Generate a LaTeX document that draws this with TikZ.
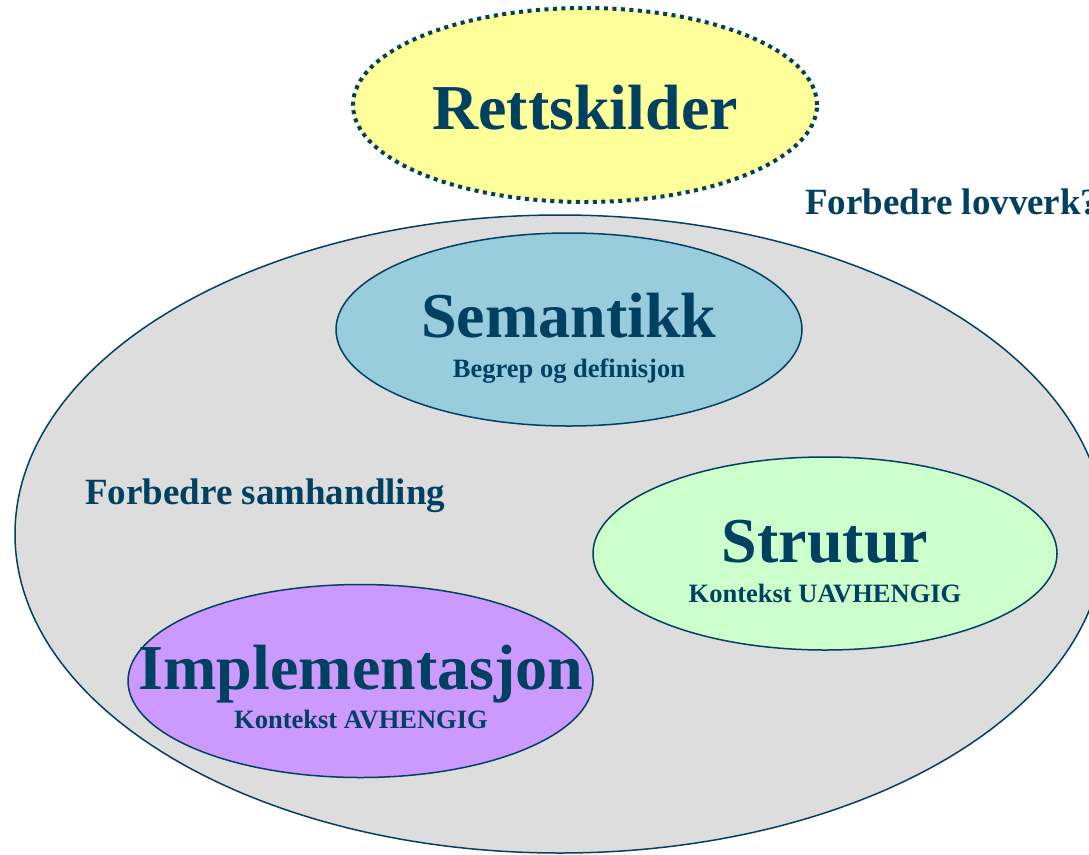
\documentclass[tikz,border=0pt]{standalone}
\usepackage{fontspec}
\setmainfont{Liberation Serif}
\usetikzlibrary{shapes.geometric}
\definecolor{ink}{RGB}{0,64,96}
\definecolor{areafill}{RGB}{221,221,221}
\definecolor{yellowfill}{RGB}{255,255,153}
\definecolor{bluefill}{RGB}{153,204,221}
\definecolor{greenfill}{RGB}{204,255,204}
\definecolor{purplefill}{RGB}{204,153,255}
\tikzset{
  blob/.style={ellipse, draw=ink, line width=1.5pt, inner sep=0pt},
  title/.style={text=ink, anchor=base, inner sep=0pt, font=\bfseries\fontsize{64}{64}\selectfont},
  subtitle/.style={text=ink, anchor=base, inner sep=0pt, font=\bfseries\fontsize{26.5}{26.5}\selectfont},
  remark/.style={text=ink, anchor=base west, inner sep=0pt, font=\bfseries\fontsize{37}{37}\selectfont}
}
\begin{document}
\begin{tikzpicture}[x=1pt,y=-1pt]
\useasboundingbox (0,0) rectangle (1089,854);
\clip (0,0) rectangle (1089,854);
\fill[white] (0,0) rectangle (1089,854);

% outer area
\node[blob, fill=areafill, minimum width=1090pt, minimum height=638pt] (area) at (560,534) {};

% legal sources
\node[ellipse, draw=ink, fill=yellowfill, line width=4pt, dash pattern=on 4pt off 4.5pt,
      inner sep=0pt, minimum width=464pt, minimum height=194pt] (rett) at (585,105) {};
\node[title] (rettT) at (585,129) {Rettskilder};

% inner topics
\node[blob, fill=bluefill, minimum width=466pt, minimum height=193pt] (sem) at (569,329.5) {};
\node[title] (semT) at (569,337) {Semantikk};
\node[subtitle] (semS) at (569,377) {Begrep og definisjon};

\node[blob, fill=greenfill, minimum width=464pt, minimum height=193pt] (str) at (825,553.5) {};
\node[title] (strT) at (825,562) {Strutur};
\node[subtitle] (strS) at (825,602) {Kontekst UAVHENGIG};

\node[blob, fill=purplefill, minimum width=465pt, minimum height=193pt] (imp) at (360.5,681) {};
\node[title] (impT) at (361,689) {Implementasjon};
\node[subtitle] (impS) at (361,728) {Kontekst AVHENGIG};

% remarks
\node[remark] (samh) at (85,504) {Forbedre samhandling};
\node[remark] (lov) at (805,214) {Forbedre lovverk?};
\end{tikzpicture}
\end{document}
